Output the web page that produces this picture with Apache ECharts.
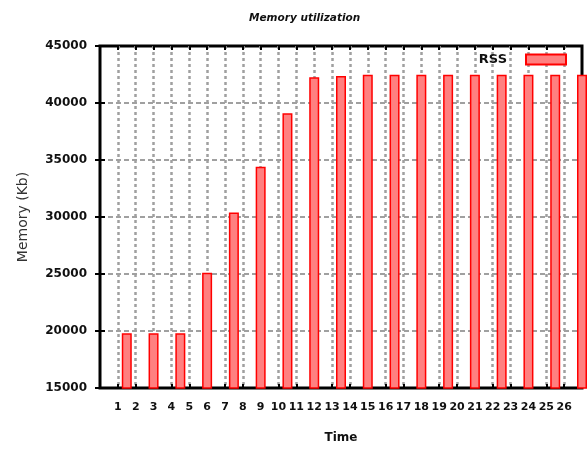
<!DOCTYPE html>
<html>
<head>
<meta charset="utf-8">
<script src="https://cdn.jsdelivr.net/npm/echarts@6/dist/echarts.min.js"></script>
<style>
html,body{margin:0;padding:0;background:#fff;}
#c{width:588px;height:449px;}
</style>
</head>
<body>
<div id="c"></div>
<script>
// Sample times (x positions on the Time axis)
var times = [1.5, 3, 4.5, 6, 7.5, 9, 10.5, 12, 13.5, 15, 16.5, 18, 19.5, 21, 22.5, 24, 25.5, 27];
// RSS memory in Kb
var rss = [19800, 19800, 19800, 25100, 30400, 34400, 39100, 42250, 42370, 42480, 42480, 42480, 42480, 42480, 42480, 42480, 42480, 42480];
// Tick labels shown on the Time axis
var xTickLabels = ['1','2','3','4','5','6','7','8','9','10','11','12','13','14','15','16','17','18','19','20','21','22','23','24','25','26'];
var yTicks = [15000, 20000, 25000, 30000, 35000, 40000, 45000];

var font = 'DejaVu Sans, Verdana, sans-serif';
var chart = echarts.init(document.getElementById('c'));
var data = times.map(function(t, i){ return [t, rss[i]]; });

var xCommon = {
  type: 'value', min: 0, max: 27, interval: 1,
  axisLine: {show: false},
  axisTick: {show: true, inside: true, length: 4, lineStyle: {color: '#000', width: 2}},
};
var yCommon = {
  type: 'value', min: yTicks[0], max: yTicks[yTicks.length-1], interval: 5000,
  axisLine: {show: false},
  axisTick: {show: true, inside: true, length: 5, lineStyle: {color: '#000', width: 2}},
};

chart.setOption({
  animation: false,
  backgroundColor: '#fff',
  title: {
    text: 'Memory utilization',
    left: 244, top: 8,
    textStyle: {fontFamily: font, fontSize: 10.5, fontWeight: 'bold', fontStyle: 'italic', color: '#111'}
  },
  legend: {
    right: 16, top: 48,
    itemWidth: 40, itemHeight: 10,
    icon: 'rect',
    align: 'right',
    textStyle: {fontFamily: font, fontSize: 13, fontWeight: 'bold', color: '#111', padding: [0, 14, 0, 0]},
    data: ['RSS']
  },
  grid: {
    left: 100, right: 6, top: 46, bottom: 55,
    show: true, borderColor: '#000', borderWidth: 3, backgroundColor: 'transparent'
  },
  xAxis: [
    Object.assign({}, xCommon, {
      position: 'bottom',
      name: 'Time', nameLocation: 'middle', nameGap: 44,
      nameTextStyle: {fontFamily: font, fontSize: 12, fontWeight: 'bold', color: '#111'},
      axisLabel: {
        margin: 14, fontFamily: font, fontSize: 11, fontWeight: 'bold', color: '#111',
        showMinLabel: false, showMaxLabel: false,
        formatter: function(v){ var i = xTickLabels.indexOf(String(v)); return i >= 0 ? xTickLabels[i] : ''; }
      },
      splitLine: {show: true, showMinLine: false, showMaxLine: false, lineStyle: {color: '#a0a0a0', type: [3, 3], width: 2.5}}
    }),
    Object.assign({}, xCommon, {
      position: 'top', axisLabel: {show: false}, splitLine: {show: false}
    })
  ],
  yAxis: [
    Object.assign({}, yCommon, {
      position: 'left',
      name: 'Memory (Kb)', nameLocation: 'middle', nameGap: 70,
      nameTextStyle: {fontFamily: font, fontSize: 14, color: '#333'},
      axisLabel: {margin: 13, fontFamily: font, fontSize: 12, fontWeight: 'bold', color: '#111',
        formatter: function(v){ return String(v); }},
      splitLine: {show: true, showMinLine: false, showMaxLine: false, lineStyle: {color: '#a0a0a0', type: [5, 3], width: 2}}
    }),
    Object.assign({}, yCommon, {
      position: 'right', axisLabel: {show: false}, splitLine: {show: false}
    })
  ],
  series: [{
    name: 'RSS',
    type: 'bar',
    xAxisIndex: 0, yAxisIndex: 0,
    barWidth: 10,
    clip: true,
    data: data,
    itemStyle: {color: '#ff8080', borderColor: '#ff0000', borderWidth: 1.5},
    z: 3
  }]
});
</script>
</body>
</html>
